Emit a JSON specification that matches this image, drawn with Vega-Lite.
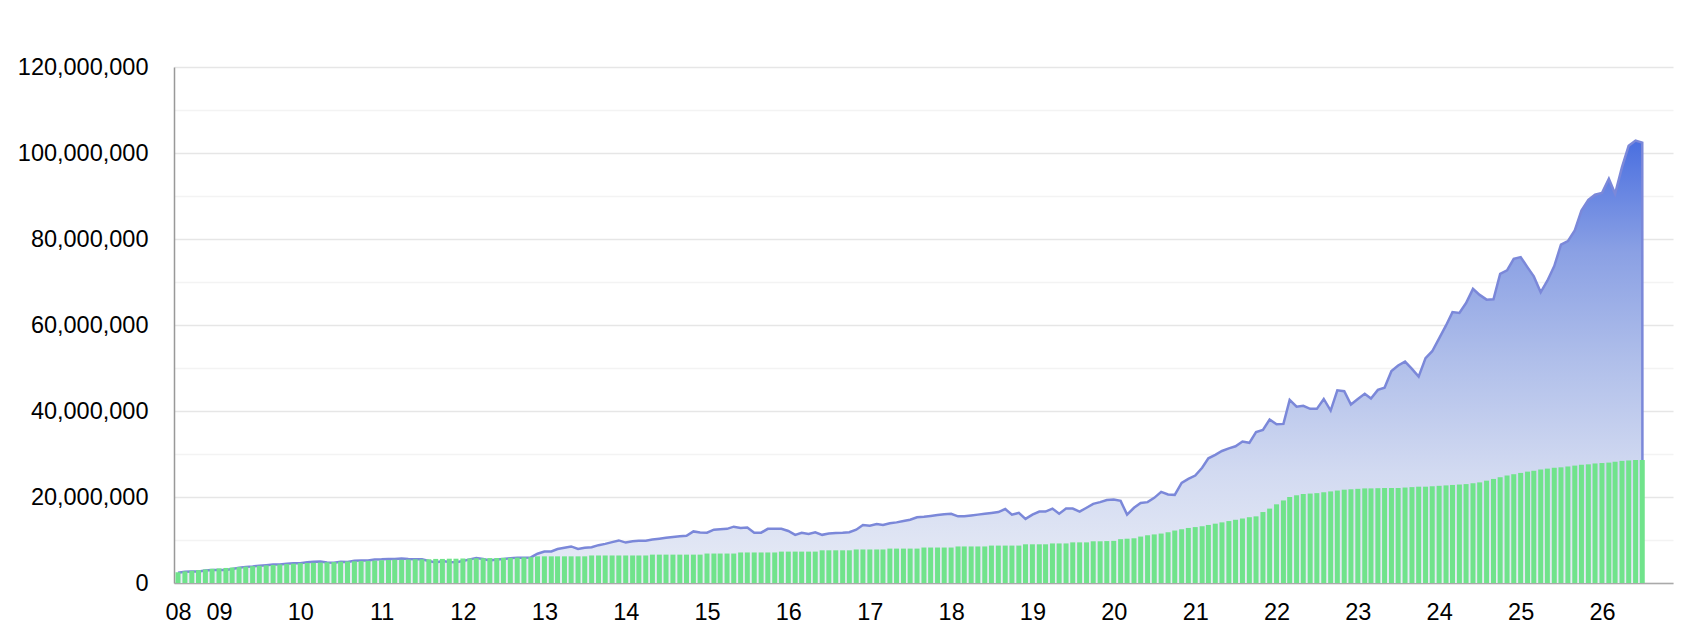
{
  "$schema": "https://vega.github.io/schema/vega-lite/v6.json",
  "width": 1499,
  "height": 516,
  "autosize": {"type": "none"},
  "padding": {"left": 174, "top": 67, "right": 27, "bottom": 57},
  "background": "white",
  "config": {
    "view": {"stroke": null},
    "axis": {"labelFont": "Liberation Sans", "labelFontSize": 23.5, "labelColor": "#000000"}
  },
  "data": {"values": [
    {"d":"2008-07-15","inv":2500000,"val":2400000},
    {"d":"2008-08-15","inv":2700000,"val":2600000},
    {"d":"2008-09-15","inv":2850000,"val":2700000},
    {"d":"2008-10-15","inv":3000000,"val":2700000},
    {"d":"2008-11-15","inv":3150000,"val":2900000},
    {"d":"2008-12-15","inv":3300000,"val":3050000},
    {"d":"2009-01-15","inv":3400000,"val":3050000},
    {"d":"2009-02-15","inv":3500000,"val":3000000},
    {"d":"2009-03-15","inv":3600000,"val":3250000},
    {"d":"2009-04-15","inv":3700000,"val":3550000},
    {"d":"2009-05-15","inv":3800000,"val":3750000},
    {"d":"2009-06-15","inv":3900000,"val":3850000},
    {"d":"2009-07-15","inv":4000000,"val":4000000},
    {"d":"2009-08-15","inv":4100000,"val":4150000},
    {"d":"2009-09-15","inv":4200000,"val":4300000},
    {"d":"2009-10-15","inv":4300000,"val":4300000},
    {"d":"2009-11-15","inv":4400000,"val":4500000},
    {"d":"2009-12-15","inv":4500000,"val":4600000},
    {"d":"2010-01-15","inv":4600000,"val":4600000},
    {"d":"2010-02-15","inv":4650000,"val":4800000},
    {"d":"2010-03-15","inv":4700000,"val":4950000},
    {"d":"2010-04-15","inv":4750000,"val":5000000},
    {"d":"2010-05-15","inv":4800000,"val":4750000},
    {"d":"2010-06-15","inv":4850000,"val":4700000},
    {"d":"2010-07-15","inv":4950000,"val":4950000},
    {"d":"2010-08-15","inv":5000000,"val":4900000},
    {"d":"2010-09-15","inv":5050000,"val":5150000},
    {"d":"2010-10-15","inv":5100000,"val":5250000},
    {"d":"2010-11-15","inv":5150000,"val":5250000},
    {"d":"2010-12-15","inv":5200000,"val":5450000},
    {"d":"2011-01-15","inv":5300000,"val":5500000},
    {"d":"2011-02-15","inv":5350000,"val":5600000},
    {"d":"2011-03-15","inv":5400000,"val":5600000},
    {"d":"2011-04-15","inv":5400000,"val":5700000},
    {"d":"2011-05-15","inv":5450000,"val":5600000},
    {"d":"2011-06-15","inv":5500000,"val":5550000},
    {"d":"2011-07-15","inv":5500000,"val":5500000},
    {"d":"2011-08-15","inv":5550000,"val":5100000},
    {"d":"2011-09-15","inv":5600000,"val":4800000},
    {"d":"2011-10-15","inv":5600000,"val":5100000},
    {"d":"2011-11-15","inv":5650000,"val":4900000},
    {"d":"2011-12-15","inv":5650000,"val":4850000},
    {"d":"2012-01-15","inv":5700000,"val":5100000},
    {"d":"2012-02-15","inv":5700000,"val":5500000},
    {"d":"2012-03-15","inv":5750000,"val":5800000},
    {"d":"2012-04-15","inv":5750000,"val":5600000},
    {"d":"2012-05-15","inv":5800000,"val":5250000},
    {"d":"2012-06-15","inv":5800000,"val":5450000},
    {"d":"2012-07-15","inv":5850000,"val":5600000},
    {"d":"2012-08-15","inv":5850000,"val":5750000},
    {"d":"2012-09-15","inv":5900000,"val":5900000},
    {"d":"2012-10-15","inv":5950000,"val":5850000},
    {"d":"2012-11-15","inv":6000000,"val":5950000},
    {"d":"2012-12-15","inv":6200000,"val":6800000},
    {"d":"2013-01-15","inv":6200000,"val":7300000},
    {"d":"2013-02-15","inv":6200000,"val":7350000},
    {"d":"2013-03-15","inv":6200000,"val":7900000},
    {"d":"2013-04-15","inv":6200000,"val":8200000},
    {"d":"2013-05-15","inv":6200000,"val":8500000},
    {"d":"2013-06-15","inv":6200000,"val":7900000},
    {"d":"2013-07-15","inv":6200000,"val":8200000},
    {"d":"2013-08-15","inv":6400000,"val":8300000},
    {"d":"2013-09-15","inv":6400000,"val":8800000},
    {"d":"2013-10-15","inv":6400000,"val":9100000},
    {"d":"2013-11-15","inv":6400000,"val":9500000},
    {"d":"2013-12-15","inv":6400000,"val":9900000},
    {"d":"2014-01-15","inv":6400000,"val":9400000},
    {"d":"2014-02-15","inv":6400000,"val":9700000},
    {"d":"2014-03-15","inv":6400000,"val":9800000},
    {"d":"2014-04-15","inv":6400000,"val":9850000},
    {"d":"2014-05-15","inv":6600000,"val":10100000},
    {"d":"2014-06-15","inv":6600000,"val":10300000},
    {"d":"2014-07-15","inv":6600000,"val":10500000},
    {"d":"2014-08-15","inv":6600000,"val":10700000},
    {"d":"2014-09-15","inv":6600000,"val":10850000},
    {"d":"2014-10-15","inv":6600000,"val":11000000},
    {"d":"2014-11-15","inv":6600000,"val":12000000},
    {"d":"2014-12-15","inv":6600000,"val":11750000},
    {"d":"2015-01-15","inv":6850000,"val":11700000},
    {"d":"2015-02-15","inv":6850000,"val":12400000},
    {"d":"2015-03-15","inv":6850000,"val":12500000},
    {"d":"2015-04-15","inv":6850000,"val":12600000},
    {"d":"2015-05-15","inv":6850000,"val":13100000},
    {"d":"2015-06-15","inv":7100000,"val":12800000},
    {"d":"2015-07-15","inv":7100000,"val":12900000},
    {"d":"2015-08-15","inv":7100000,"val":11700000},
    {"d":"2015-09-15","inv":7100000,"val":11700000},
    {"d":"2015-10-15","inv":7100000,"val":12600000},
    {"d":"2015-11-15","inv":7100000,"val":12600000},
    {"d":"2015-12-15","inv":7300000,"val":12600000},
    {"d":"2016-01-15","inv":7300000,"val":12100000},
    {"d":"2016-02-15","inv":7300000,"val":11200000},
    {"d":"2016-03-15","inv":7300000,"val":11700000},
    {"d":"2016-04-15","inv":7300000,"val":11400000},
    {"d":"2016-05-15","inv":7300000,"val":11800000},
    {"d":"2016-06-15","inv":7600000,"val":11200000},
    {"d":"2016-07-15","inv":7600000,"val":11500000},
    {"d":"2016-08-15","inv":7600000,"val":11650000},
    {"d":"2016-09-15","inv":7600000,"val":11700000},
    {"d":"2016-10-15","inv":7600000,"val":11800000},
    {"d":"2016-11-15","inv":7800000,"val":12400000},
    {"d":"2016-12-15","inv":7800000,"val":13500000},
    {"d":"2017-01-15","inv":7800000,"val":13300000},
    {"d":"2017-02-15","inv":7800000,"val":13700000},
    {"d":"2017-03-15","inv":7800000,"val":13500000},
    {"d":"2017-04-15","inv":8000000,"val":13900000},
    {"d":"2017-05-15","inv":8000000,"val":14100000},
    {"d":"2017-06-15","inv":8000000,"val":14400000},
    {"d":"2017-07-15","inv":8000000,"val":14700000},
    {"d":"2017-08-15","inv":8000000,"val":15300000},
    {"d":"2017-09-15","inv":8250000,"val":15400000},
    {"d":"2017-10-15","inv":8250000,"val":15600000},
    {"d":"2017-11-15","inv":8250000,"val":15800000},
    {"d":"2017-12-15","inv":8250000,"val":16000000},
    {"d":"2018-01-15","inv":8250000,"val":16100000},
    {"d":"2018-02-15","inv":8500000,"val":15500000},
    {"d":"2018-03-15","inv":8500000,"val":15500000},
    {"d":"2018-04-15","inv":8500000,"val":15700000},
    {"d":"2018-05-15","inv":8500000,"val":15900000},
    {"d":"2018-06-15","inv":8500000,"val":16100000},
    {"d":"2018-07-15","inv":8700000,"val":16300000},
    {"d":"2018-08-15","inv":8700000,"val":16500000},
    {"d":"2018-09-15","inv":8700000,"val":17200000},
    {"d":"2018-10-15","inv":8700000,"val":15900000},
    {"d":"2018-11-15","inv":8700000,"val":16300000},
    {"d":"2018-12-15","inv":9000000,"val":14900000},
    {"d":"2019-01-15","inv":9000000,"val":15900000},
    {"d":"2019-02-15","inv":9000000,"val":16600000},
    {"d":"2019-03-15","inv":9000000,"val":16600000},
    {"d":"2019-04-15","inv":9200000,"val":17300000},
    {"d":"2019-05-15","inv":9200000,"val":16100000},
    {"d":"2019-06-15","inv":9200000,"val":17300000},
    {"d":"2019-07-15","inv":9450000,"val":17300000},
    {"d":"2019-08-15","inv":9450000,"val":16600000},
    {"d":"2019-09-15","inv":9450000,"val":17500000},
    {"d":"2019-10-15","inv":9700000,"val":18400000},
    {"d":"2019-11-15","inv":9700000,"val":18800000},
    {"d":"2019-12-15","inv":9750000,"val":19300000},
    {"d":"2020-01-15","inv":9800000,"val":19400000},
    {"d":"2020-02-15","inv":10200000,"val":19100000},
    {"d":"2020-03-15","inv":10300000,"val":15900000},
    {"d":"2020-04-15","inv":10400000,"val":17500000},
    {"d":"2020-05-15","inv":10800000,"val":18600000},
    {"d":"2020-06-15","inv":11100000,"val":18800000},
    {"d":"2020-07-15","inv":11300000,"val":19800000},
    {"d":"2020-08-15","inv":11500000,"val":21200000},
    {"d":"2020-09-15","inv":11800000,"val":20600000},
    {"d":"2020-10-15","inv":12200000,"val":20500000},
    {"d":"2020-11-15","inv":12500000,"val":23300000},
    {"d":"2020-12-15","inv":12800000,"val":24200000},
    {"d":"2021-01-15","inv":13000000,"val":25000000},
    {"d":"2021-02-15","inv":13200000,"val":26800000},
    {"d":"2021-03-15","inv":13500000,"val":29000000},
    {"d":"2021-04-15","inv":13800000,"val":29800000},
    {"d":"2021-05-15","inv":14100000,"val":30700000},
    {"d":"2021-06-15","inv":14400000,"val":31300000},
    {"d":"2021-07-15","inv":14700000,"val":31800000},
    {"d":"2021-08-15","inv":15000000,"val":32900000},
    {"d":"2021-09-15","inv":15300000,"val":32600000},
    {"d":"2021-10-15","inv":15500000,"val":35100000},
    {"d":"2021-11-15","inv":16500000,"val":35600000},
    {"d":"2021-12-15","inv":17300000,"val":38000000},
    {"d":"2022-01-15","inv":18300000,"val":36900000},
    {"d":"2022-02-15","inv":19200000,"val":37000000},
    {"d":"2022-03-15","inv":20000000,"val":42600000},
    {"d":"2022-04-15","inv":20400000,"val":41000000},
    {"d":"2022-05-15","inv":20700000,"val":41200000},
    {"d":"2022-06-15","inv":20800000,"val":40500000},
    {"d":"2022-07-15","inv":20900000,"val":40500000},
    {"d":"2022-08-15","inv":21100000,"val":42800000},
    {"d":"2022-09-15","inv":21300000,"val":40100000},
    {"d":"2022-10-15","inv":21500000,"val":44800000},
    {"d":"2022-11-15","inv":21700000,"val":44600000},
    {"d":"2022-12-15","inv":21800000,"val":41500000},
    {"d":"2023-01-15","inv":21900000,"val":42800000},
    {"d":"2023-02-15","inv":22000000,"val":44000000},
    {"d":"2023-03-15","inv":22000000,"val":42900000},
    {"d":"2023-04-15","inv":22050000,"val":44900000},
    {"d":"2023-05-15","inv":22100000,"val":45400000},
    {"d":"2023-06-15","inv":22100000,"val":49300000},
    {"d":"2023-07-15","inv":22100000,"val":50600000},
    {"d":"2023-08-15","inv":22200000,"val":51500000},
    {"d":"2023-09-15","inv":22300000,"val":49800000},
    {"d":"2023-10-15","inv":22400000,"val":48000000},
    {"d":"2023-11-15","inv":22400000,"val":52300000},
    {"d":"2023-12-15","inv":22500000,"val":53900000},
    {"d":"2024-01-15","inv":22600000,"val":56900000},
    {"d":"2024-02-15","inv":22700000,"val":59900000},
    {"d":"2024-03-15","inv":22800000,"val":63000000},
    {"d":"2024-04-15","inv":22900000,"val":62800000},
    {"d":"2024-05-15","inv":23000000,"val":65100000},
    {"d":"2024-06-15","inv":23200000,"val":68400000},
    {"d":"2024-07-15","inv":23400000,"val":67000000},
    {"d":"2024-08-15","inv":23800000,"val":65900000},
    {"d":"2024-09-15","inv":24200000,"val":66000000},
    {"d":"2024-10-15","inv":24600000,"val":71900000},
    {"d":"2024-11-15","inv":25000000,"val":72700000},
    {"d":"2024-12-15","inv":25300000,"val":75400000},
    {"d":"2025-01-15","inv":25600000,"val":75800000},
    {"d":"2025-02-15","inv":25900000,"val":73400000},
    {"d":"2025-03-15","inv":26100000,"val":71300000},
    {"d":"2025-04-15","inv":26400000,"val":67600000},
    {"d":"2025-05-15","inv":26600000,"val":70300000},
    {"d":"2025-06-15","inv":26800000,"val":73700000},
    {"d":"2025-07-15","inv":26900000,"val":78700000},
    {"d":"2025-08-15","inv":27100000,"val":79500000},
    {"d":"2025-09-15","inv":27300000,"val":82000000},
    {"d":"2025-10-15","inv":27500000,"val":86600000},
    {"d":"2025-11-15","inv":27600000,"val":89100000},
    {"d":"2025-12-15","inv":27800000,"val":90300000},
    {"d":"2026-01-15","inv":27900000,"val":90700000},
    {"d":"2026-02-15","inv":28000000,"val":94000000},
    {"d":"2026-03-15","inv":28200000,"val":90500000},
    {"d":"2026-04-15","inv":28400000,"val":96700000},
    {"d":"2026-05-15","inv":28500000,"val":101700000},
    {"d":"2026-06-15","inv":28600000,"val":102900000},
    {"d":"2026-07-15","inv":28600000,"val":102400000},
    {"d":"2026-07-16","val":0}
  ]},
  "encoding": {
    "x": {
      "field": "d",
      "type": "temporal",
      "title": null,
      "scale": {"type": "utc", "nice": false, "padding": 0, "domain": [1214524800000, 1795996800000]},
      "axis": {
        "values": [1216080000000, 1231977600000, 1263513600000, 1295049600000, 1326585600000, 1358208000000, 1389744000000, 1421280000000, 1452816000000, 1484438400000, 1515974400000, 1547510400000, 1579046400000, 1610668800000, 1642204800000, 1673740800000, 1705276800000, 1736899200000, 1768435200000],
        "labelExpr": "utcFormat(datum.value, '%y')",
        "labelAngle": 0,
        "labelOverlap": false,
        "labelFlush": false,
        "grid": false,
        "ticks": false,
        "labelPadding": 17,
        "domainColor": "#aaaaaa",
        "domainWidth": 1.5
      }
    }
  },
  "layer": [
    {
      "mark": {
        "type": "area",
        "fill": {"gradient": "linear", "x1": 0, "y1": 0, "x2": 0, "y2": 1,
          "stops": [
            {"offset": 0, "color": "#4a6fe0"},
            {"offset": 0.25, "color": "#8aa0e4"},
            {"offset": 0.5, "color": "#b0bfea"},
            {"offset": 0.75, "color": "#d2daf1"},
            {"offset": 1, "color": "#e8ecf6"}
          ]}
      },
      "encoding": {
        "y": {
          "field": "val",
          "type": "quantitative",
          "title": null,
          "scale": {"domain": [0, 120000000], "nice": false},
          "axis": {
            "values": [0,10000000,20000000,30000000,40000000,50000000,60000000,70000000,80000000,90000000,100000000,110000000,120000000],
            "labelExpr": "datum.value % 20000000 === 0 ? format(datum.value, ',') : ''",
            "grid": true,
            "gridColor": {"condition": {"test": "datum.value % 20000000 === 0", "value": "#e6e6e6"}, "value": "#f3f3f3"},
            "gridWidth": 1.5,
            "ticks": false,
            "labelPadding": 26,
            "domainColor": "#999999",
            "domainWidth": 1.5
          }
        }
      }
    },
    {
      "mark": {"type": "line", "color": "#7b88d9", "strokeWidth": 2.5},
      "encoding": {
        "y": {"field": "val", "type": "quantitative", "title": null}
      }
    },
    {
      "mark": {"type": "bar", "color": "#70e38b", "size": 5},
      "encoding": {
        "y": {"field": "inv", "type": "quantitative", "title": null}
      }
    }
  ]
}
